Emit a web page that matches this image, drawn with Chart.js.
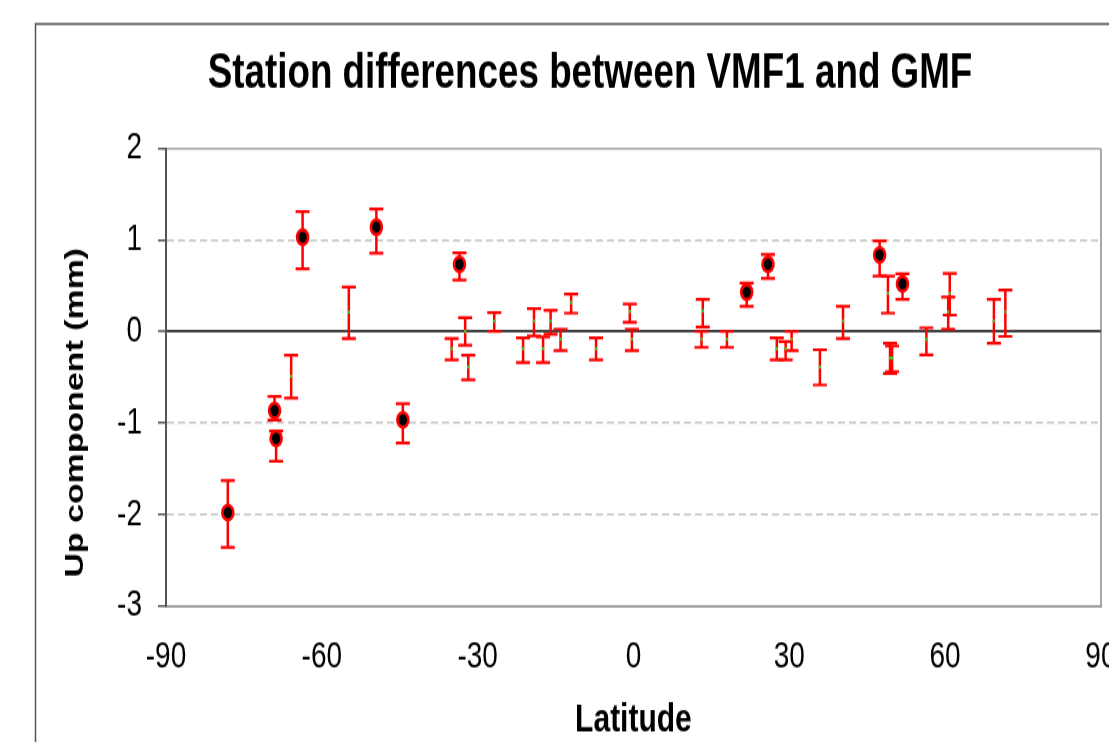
<!DOCTYPE html>
<html>
<head>
<meta charset="utf-8">
<script src="https://cdn.jsdelivr.net/npm/chart.js@4/dist/chart.umd.min.js"></script>
<style>
  html, body { margin: 0; padding: 0; background: #fff; overflow: hidden; }
  #page { width: 1109px; height: 742px; overflow: hidden; position: relative; }
  #wrap { position: absolute; left: 0; top: 0; width: 1109px; height: 558px; transform: scaleY(1.3297); transform-origin: 0 0; }
</style>
</head>
<body>
<div id="page"><div id="wrap"><canvas id="chart" width="1109" height="558"></canvas></div></div>
<script>
// Stations with significant differences (black dots)
const sigLat  = [-78.1, -69.1, -68.8, -63.7, -49.5, -44.4, -33.5, 21.8, 25.9, 47.4, 51.8];
const sigVal  = [-1.98, -0.865, -1.17, 1.03, 1.14, -0.966, 0.733, 0.43, 0.733, 0.835, 0.52];
const sigLow  = [-2.36, -0.97, -1.42, 0.685, 0.856, -1.22, 0.56, 0.275, 0.58, 0.605, 0.35];
const sigHigh = [-1.63, -0.71, -1.09, 1.31, 1.34, -0.79, 0.86, 0.53, 0.84, 0.99, 0.63];

// Other stations (error bars only)
const otherLat  = [-65.9, -54.8, -35.0, -32.4, -31.8, -26.8, -21.25, -19.15, -17.4, -15.95, -14.04, -12.0, -7.2,
                   -0.7, -0.3, 13.35, 13.1, 18.0, 27.6, 29.3, 30.45, 35.9, 40.35, 49.0, 49.4, 49.8, 56.4, 60.9, 60.6, 69.4, 71.6];
const otherVal  = [-0.49, 0.21, -0.19, 0.0, -0.39, 0.115, -0.19, 0.115, -0.19, 0.115, -0.085, 0.315, -0.19,
                   0.217, -0.085, 0.225, -0.085, -0.085, -0.19, -0.19, -0.085, -0.39, 0.115, 0.417, -0.29, -0.29, -0.085, 0.417, 0.213, 0.115, 0.213];
const otherLow  = [-0.73, -0.077, -0.31, -0.15, -0.53, 0.0, -0.34, -0.05, -0.34, -0.03, -0.21, 0.2, -0.31,
                   0.1, -0.21, 0.05, -0.175, -0.175, -0.31, -0.31, -0.21, -0.585, -0.077, 0.2, -0.46, -0.44, -0.255, 0.178, 0.025, -0.13, -0.055];
const otherHigh = [-0.26, 0.486, -0.077, 0.15, -0.26, 0.206, -0.07, 0.25, -0.06, 0.23, 0.025, 0.41, -0.07,
                   0.30, 0.025, 0.35, 0.0, 0.0, -0.07, -0.11, 0.0, -0.2, 0.275, 0.605, -0.13, -0.16, 0.04, 0.635, 0.377, 0.35, 0.453];

const xTicks = [-90, -60, -30, 0, 30, 60, 90];
const yTicks = [-3, -2, -1, 0, 1, 2];

function toPoints(lat, val, lo, hi) {
    return lat.map((x, i) => ({ x: x, y: val[i], lo: lo[i], hi: hi[i] }));
}

// Frame of the chart area (Excel style border)
const frame = {
    id: 'frame',
    beforeDraw(chart) {
        const c = chart.ctx;
        c.save();
        c.fillStyle = '#fff';
        c.fillRect(0, 0, chart.width, chart.height);
        c.strokeStyle = '#555';
        c.lineWidth = 1.5;
        c.beginPath();
        c.moveTo(35.5, chart.height + 5);
        c.lineTo(35.5, 18);
        c.lineTo(chart.width + 5, 18);
        c.stroke();
        c.restore();
    }
};

// Error bars
const errorBars = {
    id: 'errorBars',
    beforeDatasetsDraw(chart) {
        const c = chart.ctx;
        const xs = chart.scales.x, ys = chart.scales.y;
        c.save();
        c.strokeStyle = '#ff0000';
        chart.data.datasets.forEach(ds => {
            ds.data.forEach(p => {
                const px = xs.getPixelForValue(p.x);
                const yl = ys.getPixelForValue(p.lo);
                const yh = ys.getPixelForValue(p.hi);
                c.lineWidth = 2.5;
                c.beginPath();
                c.moveTo(px, yl);
                c.lineTo(px, yh);
                c.stroke();
                c.lineWidth = 2.2;
                c.beginPath();
                c.moveTo(px - 7, yl); c.lineTo(px + 7, yl);
                c.moveTo(px - 7, yh); c.lineTo(px + 7, yh);
                c.stroke();
            });
        });
        c.restore();
    }
};

const edge = v => v === 2 || v === -3;

new Chart(document.getElementById('chart'), {
    type: 'scatter',
    data: {
        datasets: [{
            label: 'other',
            data: toPoints(otherLat, otherVal, otherLow, otherHigh),
            pointRadius: 1.2,
            pointBorderWidth: 0,
            backgroundColor: '#33dd33'
        }, {
            label: 'significant',
            data: toPoints(sigLat, sigVal, sigLow, sigHigh),
            pointRadius: 5.5,
            pointBorderWidth: 2.6,
            borderColor: '#ff0000',
            backgroundColor: '#000'
        }]
    },
    options: {
        responsive: false,
        animation: false,
        layout: { padding: { left: 74, top: 18, right: 3, bottom: 0 } },
        plugins: {
            legend: { display: false },
            tooltip: { enabled: false },
            title: {
                display: true,
                text: 'Station differences between VMF1 and GMF',
                color: '#000',
                font: { family: 'Liberation Sans', size: 36.8, weight: 'bold' },
                padding: { top: 16, bottom: 33.5 }
            }
        },
        scales: {
            x: {
                type: 'linear',
                min: -90, max: 90,
                afterBuildTicks: s => { s.ticks = xTicks.map(v => ({ value: v })); },
                afterFit: s => { s.height = 102.4; s.paddingLeft = 0; s.paddingRight = 0; },
                ticks: { color: '#000', padding: 22, font: { family: 'Liberation Sans', size: 28 } },
                grid: {
                    drawTicks: false,
                    color: ctx => (ctx.tick && ctx.tick.value === 90) ? '#a8a8a8' : 'rgba(0,0,0,0)',
                    lineWidth: 2
                },
                border: { color: '#a0a0a0', width: 2 },
                title: {
                    display: true, text: 'Latitude', color: '#000',
                    font: { family: 'Liberation Sans', size: 30, weight: 'bold' },
                    padding: { top: 0, bottom: -2 }
                }
            },
            y: {
                min: -3, max: 2,
                afterBuildTicks: s => { s.ticks = yTicks.map(v => ({ value: v })); },
                afterFit: s => { s.width = 92; },
                ticks: { color: '#000', padding: 16, font: { family: 'Liberation Sans', size: 28 } },
                grid: {
                    color: ctx => {
                        const v = ctx.tick ? ctx.tick.value : null;
                        if (v === 0) return '#444';
                        if (edge(v)) return '#a8a8a8';
                        return '#c4c4c4';
                    },
                    lineWidth: ctx => (ctx.tick && ctx.tick.value === 0) ? 2 : 1.5,
                    tickColor: '#555',
                    tickLength: 8,
                    tickWidth: 1.5
                },
                border: {
                    color: '#555', width: 2,
                    dash: ctx => {
                        const v = ctx.tick ? ctx.tick.value : null;
                        return (v === null || v === 0 || edge(v)) ? [] : [7, 4];
                    }
                },
                title: {
                    display: true, text: '   Up component (mm)', color: '#000',
                    align: 'start',
                    font: { family: 'Liberation Sans', size: 25.5, weight: 'bold' },
                    padding: { top: -13, bottom: 0 }
                }
            }
        }
    },
    plugins: [frame, errorBars]
});
</script>
</body>
</html>
